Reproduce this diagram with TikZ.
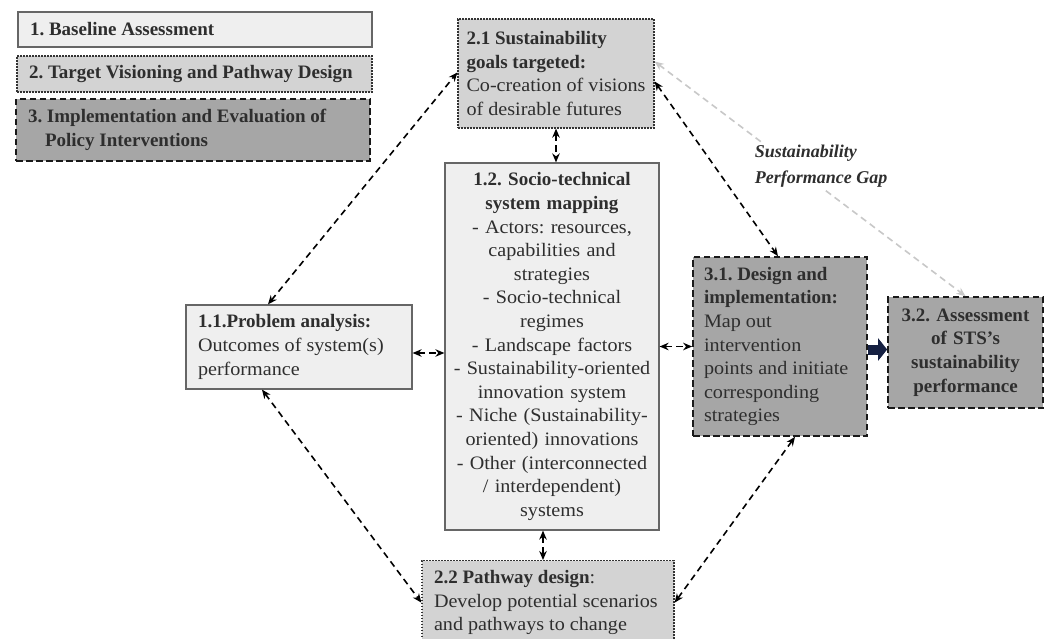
\documentclass[tikz,border=0pt]{standalone}
\usepackage{fontspec}
\setmainfont{Liberation Serif}[UprightFeatures={FakeStretch=1.06}]
\usetikzlibrary{arrows.meta}
\definecolor{fillL}{HTML}{EFEFEF}
\definecolor{fillM}{HTML}{D3D3D3}
\definecolor{fillD}{HTML}{A6A6A6}
\definecolor{txt}{HTML}{2E2E2E}
\definecolor{gapgray}{HTML}{C8C8C8}
\definecolor{navy}{HTML}{152042}
\tikzset{
  basebox/.style={inner xsep=12pt, inner ysep=0pt, text=txt, font=\fontsize{19}{23.6}\selectfont\frenchspacing, align=flush left},
  solidbox/.style={basebox, draw=black!60, line width=1.2pt, fill=fillL},
  dotbox/.style={basebox, draw=black!80, line width=1.3pt, dash pattern=on 1.6pt off 1.4pt, fill=fillM},
  dashbox/.style={basebox, draw=black!90, line width=1.7pt, dash pattern=on 6.5pt off 3.5pt, fill=fillD},
  conn/.style={black, line width=1.6pt, dash pattern=on 6.5pt off 4.5pt, {Stealth[length=9pt,width=7.5pt]}-{Stealth[length=9pt,width=7.5pt]}},
  gapconn/.style={conn, gapgray},
}
\begin{document}
\begin{tikzpicture}[x=1pt,y=-1pt]
\useasboundingbox[fill=white] (0,0) rectangle (1052,639);
% legend
\node[solidbox, minimum width=354pt, minimum height=35pt, text width=330pt] (l1) at (195,29.5) {\textbf{1. Baseline Assessment}};
\node[dotbox, minimum width=355pt, minimum height=36pt, text width=331pt] (l2) at (194.5,74) {\textbf{2. Target Visioning and Pathway Design}};
\node[dashbox, minimum width=354pt, minimum height=62pt, text width=336pt, inner xsep=9pt] (l3) at (193,130) {\hspace*{3pt}\textbf{3. Implementation and Evaluation of}\\\hspace*{20pt}\textbf{Policy Interventions}};
% main boxes
\node[dotbox, minimum width=196pt, minimum height=109pt, inner xsep=8pt] (n21) at (556,73.5) {\textbf{2.1 Sustainability}\\\textbf{goals targeted:}\\Co-creation of visions\\of desirable futures};
\node[solidbox, minimum width=214pt, minimum height=367pt, text width=202pt, inner xsep=6pt, align=center] (n12) at (552,346.5) {\textbf{1.2. Socio-technical}\\\textbf{system mapping}\\- Actors: resources,\\capabilities and\\strategies\\- Socio-technical\\regimes\\- Landscape factors\\- Sustainability-oriented\\innovation system\\- Niche (Sustainability-\\oriented) innovations\\- Other (interconnected\\/ interdependent)\\systems};
\node[solidbox, minimum width=226pt, minimum height=84pt, text width=202pt] (n11) at (299,347) {\textbf{1.1.Problem analysis:}\\Outcomes of system(s)\\performance};
\node[dashbox, minimum width=174pt, minimum height=179pt, text width=152pt, inner xsep=11pt] (n31) at (780,346.5) {\textbf{3.1. Design and}\\\textbf{implementation:}\\Map out\\intervention\\points and initiate\\corresponding\\strategies};
\node[dashbox, minimum width=155pt, minimum height=111pt, text width=135pt, inner xsep=10pt, align=center] (n32) at (965.5,352.5) {\textbf{3.2. Assessment}\\\textbf{of STS's}\\\textbf{sustainability}\\\textbf{performance}};
\node[dotbox, minimum width=252pt, minimum height=84pt, text width=228pt, anchor=north] (n22) at (548,560) {\textbf{2.2 Pathway design}:\\Develop potential scenarios\\and pathways to change};
% connectors
\draw[gapconn] ([yshift=12pt]n21.east) -- (n32.north);
\node[fill=white, inner sep=2pt, align=flush left, text=txt, font=\fontsize{18}{26}\selectfont\itshape\bfseries] (gap) at (821,166) {Sustainability\\Performance Gap};
\draw[conn] ([xshift=-31pt]n11.north) -- ([yshift=1pt]n21.west);
\draw[conn] ([xshift=-37pt]n11.south) -- (n22.west);
\draw[conn] ([yshift=-8pt]n21.east) -- ([xshift=-2pt]n31.north);
\draw[conn] ([xshift=15pt]n31.south) -- (n22.east);
\draw[conn] ([yshift=-6pt]n11.east) -- ([yshift=-6pt]n11.east -| n12.west);
\draw[conn] (n31.west -| n12.east) -- (n31.west);
\draw[conn] (n21.south) -- (n21.south |- n12.north);
\draw[conn] ([xshift=-9pt]n12.south) -- ([xshift=-9pt]n12.south |- n22.north);
\draw[navy, line width=10pt, -{Triangle[length=9pt,width=22pt]}] ([yshift=-3pt]n31.east) -- ([yshift=-3pt]n31.east -| n32.west);
\end{tikzpicture}
\end{document}
